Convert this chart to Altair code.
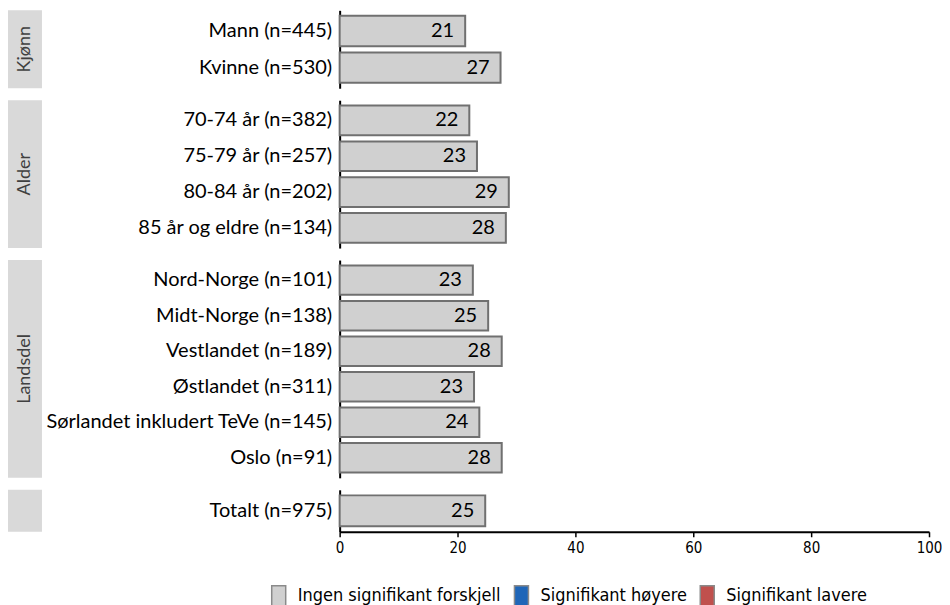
import altair as alt
import pandas as pd

groups = ["Kjønn", "Kjønn", "Alder", "Alder", "Alder", "Alder",
          "Landsdel", "Landsdel", "Landsdel", "Landsdel", "Landsdel", "Landsdel", "Totalt"]
labels = ["Mann (n=445)", "Kvinne (n=530)",
          "70-74 år (n=382)", "75-79 år (n=257)", "80-84 år (n=202)", "85 år og eldre (n=134)",
          "Nord-Norge (n=101)", "Midt-Norge (n=138)", "Vestlandet (n=189)", "Østlandet (n=311)",
          "Sørlandet inkludert TeVe (n=145)", "Oslo (n=91)", "Totalt (n=975)"]
values = [21.3, 27.3, 22.0, 23.3, 28.7, 28.2, 22.6, 25.2, 27.5, 22.8, 23.7, 27.5, 24.7]
shown = [21, 27, 22, 23, 29, 28, 23, 25, 28, 23, 24, 28, 25]
status = ["Ingen signifikant forskjell"] * 13

legend_domain = ["Ingen signifikant forskjell", "Signifikant høyere", "Signifikant lavere"]
legend_colors = ["#d0d0d0", "#1f66b8", "#c0504d"]

panel_groups = ["Kjønn", "Alder", "Landsdel", "Totalt"]
panel_titles = ["Kjønn", "Alder", "Landsdel", ""]
panel_heights = [78, 148, 218, 42]

NARROW = "Liberation Sans Narrow, DejaVu Sans Condensed, Roboto Condensed, Arial Narrow, sans-serif"

df = pd.DataFrame({"group": groups, "label": labels, "value": values,
                   "shown": shown, "status": status})

color = alt.Color("status:N",
                  scale=alt.Scale(domain=legend_domain, range=legend_colors),
                  legend=alt.Legend(title=None, orient="none", direction="horizontal",
                                    legendX=260, legendY=575,
                                    symbolType="M-0.7,-1L0.7,-1L0.7,1L-0.7,1Z",
                                    symbolSize=400, symbolStrokeColor="#8a8a8a",
                                    symbolStrokeWidth=1.5, symbolOpacity=1,
                                    labelFont=NARROW, labelFontSize=18,
                                    labelColor="black", labelOffset=8, columnPadding=9,
                                    labelLimit=400))

rows = []
for g, t, h in zip(panel_groups, panel_titles, panel_heights):
    last = g == "Totalt"
    d = df[df.group == g]
    xaxis = alt.Axis(title=None, values=[0, 20, 40, 60, 80, 100], grid=False,
                     domainColor="black", domainWidth=2, tickColor="black",
                     tickSize=5, tickWidth=1.5, labelFont=NARROW, labelFlush=False,
                     labelFontSize=15, labelColor="black", labelPadding=4) if last else None
    x = alt.X("value:Q", scale=alt.Scale(domain=[0, 100]), axis=xaxis)
    y = alt.Y("label:N", sort=list(d.label),
              scale=alt.Scale(paddingInner=0.17, paddingOuter=0.15),
              axis=alt.Axis(title=None, ticks=False, domainColor="black", domainWidth=2,
                            labelFont="Lato", labelFontSize=20, labelColor="black",
                            labelPadding=8, minExtent=298, maxExtent=298, labelLimit=290))
    base = alt.Chart(d)
    bars = base.mark_bar(stroke="#707070", strokeWidth=2).encode(x=x, y=y, color=color)
    text = base.mark_text(align="right", dx=-11, font="Lato", fontSize=20,
                          color="black").encode(x=x, y=y, text="shown:Q")
    barpanel = (bars + text).properties(width=590, height=h)

    boxdf = pd.DataFrame({"t": [t]})
    box = alt.Chart(boxdf).mark_rect(color="#d9d9d9").encode(
        x=alt.value(0), x2=alt.value(34), y=alt.value(0), y2=alt.value(h))
    boxtext = alt.Chart(boxdf).mark_text(angle=270, font="Lato", fontSize=18,
                                         color="#404040").encode(
        x=alt.value(17), y=alt.value(h / 2), text="t:N")
    boxpanel = (box + boxtext).properties(width=34, height=h)
    rows.append(alt.hconcat(boxpanel, barpanel, spacing=0))

chart = alt.vconcat(*rows, spacing=12).properties(
    padding={"left": 0, "top": 2, "right": 0, "bottom": 0},
    background="white"
).configure_view(stroke=None)

chart.save("out.html", embed_options={"renderer": "svg", "actions": False})
